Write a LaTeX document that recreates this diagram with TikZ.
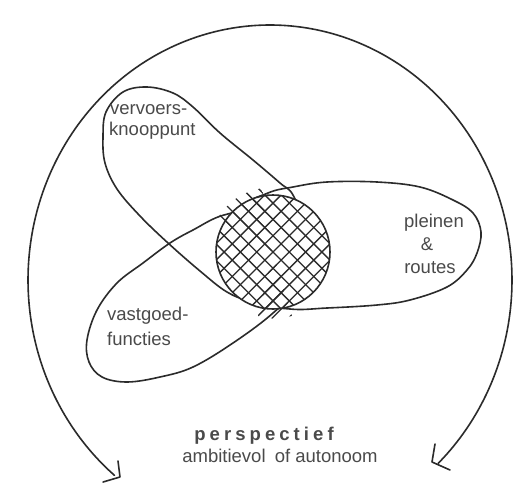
\documentclass[tikz,border=0pt]{standalone}
\usepackage{fontspec}
\setmainfont{Liberation Sans}
\usetikzlibrary{calc}
\definecolor{ink}{HTML}{2B2B2B}
\definecolor{txt}{HTML}{4A4A4A}
\begin{document}
\begin{tikzpicture}[x=1pt,y=-1pt,
  outline/.style={draw=ink, line width=1.6pt, line join=round, line cap=round},
  hatchline/.style={draw=ink, line width=1.3pt},
  lbl/.style={text=txt, inner sep=0pt, font=\fontsize{18.5}{22}\selectfont},
]
\useasboundingbox[fill=white] (0,0) rectangle (513,485);

% big outer arc (perspectief)
\draw[outline] plot[domain=-46:230, samples=140, smooth] ({270+242*cos(\x)},{280-255*sin(\x)});
% hand-drawn arrow heads
\coordinate (lt) at (120,477);
\coordinate (rt) at (432,462);
\draw[outline] (118,461) -- (lt) -- (103,482);
\draw[outline] (435,444) -- (rt) -- (450,470);

% vervoersknooppunt
\draw[outline] plot[smooth cycle, tension=0.6] coordinates {
 (103,137) (106,112) (123,92) (147,87) (173,93) (193,107) (220,133) (253,160) (280,183) (293,195)
 (305,228) (304,268) (282,297) (250,300) (227,292) (200,271) (168,243) (140,216) (117,189) (105,163)};

% vastgoedfuncties
\draw[outline] plot[smooth cycle, tension=0.6] coordinates {
 (224,215) (193,230) (170,243) (143,263) (117,283) (97,310) (87,340) (89,362) (102,377) (127,382)
 (160,377) (193,367) (233,343) (273,313) (300,283) (302,240) (265,211)};

% pleinen & routes
\draw[outline] plot[smooth cycle, tension=0.6] coordinates {
 (293,187) (327,182) (377,182) (420,187) (453,200) (473,213) (481,232) (477,253) (467,270) (447,287)
 (410,300) (377,305) (327,308) (290,309) (250,300) (224,260) (240,210) (268,193)};

% hatched core
\coordinate (hc) at (273,252);
\fill[white] (hc) circle[radius=57pt];
\begin{scope}
  \clip (hc) circle[radius=57pt];
  \foreach \k in {-8,...,8}{
    \draw[hatchline] ({273+\k*16.3-80},172) -- ++(160,160);
    \draw[hatchline] ({273+\k*16.3-80},332) -- ++(160,-160);
  }
\end{scope}
% sketchy overshoot of the hatch at top-left and bottom
\begin{scope}
  \clip (hc) -- (262,188) -- (249,191.5) -- (236,198.5) -- (225,208) -- (217,219) -- cycle;
  \foreach \k in {-8,...,8}{
    \draw[hatchline] ({273+\k*16.3-80},172) -- ++(160,160);
  }
\end{scope}
\begin{scope}
  \clip (hc) -- (292,316) -- (275,319) -- (258,316) -- cycle;
  \foreach \k in {-8,...,8}{
    \draw[hatchline] ({273+\k*16.3-80},332) -- ++(160,-160);
  }
\end{scope}
\draw[outline] (hc) circle[radius=57pt];

% labels
\node[lbl, anchor=base west] (vv1) at (110,114) {vervoers-};
\node[lbl, anchor=base west] (vv2) at (109,135) {knooppunt};
\node[lbl, anchor=base] (pr1) at (434,227) {pleinen};
\node[lbl, anchor=base] (pr2) at (427,250) {\&};
\node[lbl, anchor=base] (pr3) at (430,273) {routes};
\node[lbl, anchor=base west] (vg1) at (107,320) {vastgoed-};
\node[lbl, anchor=base west] (vg2) at (107,345) {functies};
\node[lbl, anchor=base, font=\fontsize{18.5}{22}\selectfont\bfseries\addfontfeature{LetterSpace=22}] (ps) at (264,440) {perspectief};
\node[lbl, anchor=base] (am) at (280,462) {ambitievol\hspace{4pt} of autonoom};
\end{tikzpicture}
\end{document}
